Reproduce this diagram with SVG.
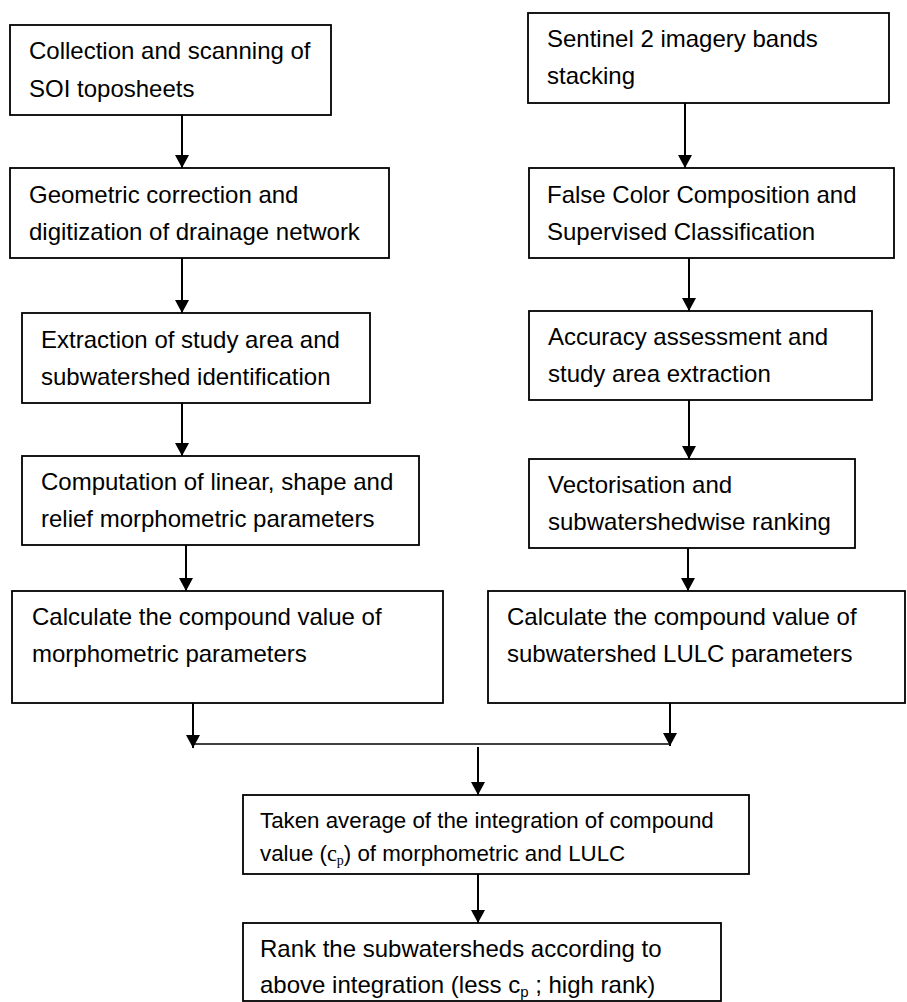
<svg xmlns="http://www.w3.org/2000/svg" width="907" height="1002" viewBox="0 0 907 1002">
<style>
.box{fill:#fff;stroke:#000;stroke-width:1.8}
.t{font-family:"Liberation Sans",Arial,sans-serif;font-size:24px;fill:#000}
.ts{font-family:"Liberation Sans",Arial,sans-serif;font-size:22.3px;fill:#000}
.ser{font-family:"Liberation Serif","Times New Roman",serif}
.ar{stroke:#000;stroke-width:2;fill:none;marker-end:url(#ah)}
.mg{stroke:#000;stroke-width:1.3;fill:none}
</style>
<defs>
<marker id="ah" viewBox="0 0 13 14" refX="13" refY="7" markerWidth="13" markerHeight="14" markerUnits="userSpaceOnUse" orient="auto">
<path d="M0,0 L13,7 L0,14 z" fill="#000"/>
</marker>
</defs>
<rect width="907" height="1002" fill="#fff"/>
<g id="connectors">
<line class="ar" x1="182" y1="115" x2="182" y2="168"/>
<line class="ar" x1="182" y1="258" x2="182" y2="313"/>
<line class="ar" x1="182" y1="403" x2="182" y2="456"/>
<line class="ar" x1="186" y1="545" x2="186" y2="591"/>
<line class="ar" x1="193" y1="703" x2="193" y2="748"/>
<line class="ar" x1="685" y1="103" x2="685" y2="168"/>
<line class="ar" x1="689" y1="258" x2="689" y2="311"/>
<line class="ar" x1="689" y1="400" x2="689" y2="459"/>
<line class="ar" x1="688" y1="548" x2="688" y2="591"/>
<line class="ar" x1="670" y1="703" x2="670" y2="746"/>
<line class="mg" x1="193" y1="744" x2="670" y2="744"/>
<line class="ar" x1="478" y1="747" x2="478" y2="795"/>
<line class="ar" x1="478" y1="874" x2="478" y2="923"/>
</g>
<g id="n-l1"><rect class="box" x="10" y="25" width="321" height="90"/><text class="t" x="29" y="59">Collection and scanning of</text><text class="t" x="29" y="97">SOI toposheets</text></g>
<g id="n-l2"><rect class="box" x="10" y="168" width="379" height="90"/><text class="t" x="29" y="203">Geometric correction and</text><text class="t" x="29" y="240">digitization of drainage network</text></g>
<g id="n-l3"><rect class="box" x="22" y="313" width="348" height="90"/><text class="t" x="41" y="348">Extraction of study area and</text><text class="t" x="41" y="385">subwatershed identification</text></g>
<g id="n-l4"><rect class="box" x="22" y="456" width="397" height="89"/><text class="t" x="41" y="490">Computation of linear, shape and</text><text class="t" x="41" y="527">relief morphometric parameters</text></g>
<g id="n-l5"><rect class="box" x="12" y="591" width="431" height="112"/><text class="t" x="32" y="625">Calculate the compound value of</text><text class="t" x="32" y="662">morphometric parameters</text></g>
<g id="n-r1"><rect class="box" x="528" y="13" width="361" height="90"/><text class="t" x="547" y="47">Sentinel 2 imagery bands</text><text class="t" x="547" y="84">stacking</text></g>
<g id="n-r2"><rect class="box" x="529" y="168" width="365" height="90"/><text class="t" x="547" y="203">False Color Composition and</text><text class="t" x="547" y="240">Supervised Classification</text></g>
<g id="n-r3"><rect class="box" x="529" y="311" width="343" height="89"/><text class="t" x="548" y="345">Accuracy assessment and</text><text class="t" x="548" y="382">study area extraction</text></g>
<g id="n-r4"><rect class="box" x="529" y="459" width="326" height="89"/><text class="t" x="548" y="493">Vectorisation and</text><text class="t" x="548" y="530">subwatershedwise ranking</text></g>
<g id="n-r5"><rect class="box" x="488" y="591" width="417" height="112"/><text class="t" x="507" y="625">Calculate the compound value of</text><text class="t" x="507" y="662">subwatershed LULC parameters</text></g>
<g id="n-b1"><rect class="box" x="243" y="795" width="506" height="79"/><text class="ts" x="260" y="828">Taken average of the integration of compound</text><text class="ts" x="260" y="861">value (<tspan class="ser">c</tspan><tspan class="ser" font-size="14" dy="4">p</tspan><tspan dy="-4">) of morphometric and LULC</tspan></text></g>
<g id="n-b2"><rect class="box" x="243" y="923" width="478" height="78"/><text class="t" x="260" y="957">Rank the subwatersheds according to</text><text class="t" x="260" y="993">above integration (less c<tspan font-size="15" dy="4">p</tspan><tspan dy="-4"> ; high rank)</tspan></text></g>
</svg>
